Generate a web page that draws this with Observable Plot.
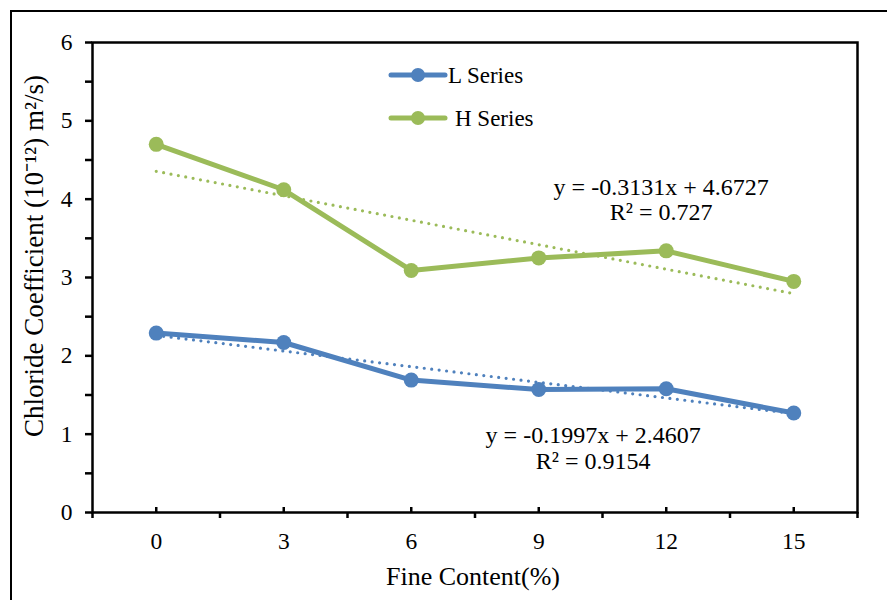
<!DOCTYPE html>
<html><head><meta charset="utf-8">
<script src="https://cdn.jsdelivr.net/npm/d3@7"></script>
<script src="https://cdn.jsdelivr.net/npm/@observablehq/plot@0.6"></script>
<style>
body{margin:0;background:#fff;}
#wrap{position:relative;width:887px;height:600px;overflow:hidden;font-family:"Liberation Serif","Times New Roman",serif;color:#000;background:#fff;}
#outer{position:absolute;left:10px;top:10px;width:1000px;height:1000px;border-left:2.5px solid #000;border-top:2.5px solid #000;}
#chart{position:absolute;left:0;top:0;}
#chart g[aria-label$="tick label"] text{font-size:23.5px;}
#ytitle{position:absolute;left:32px;top:256px;transform:translate(-50%,-50%) rotate(-90deg);white-space:nowrap;font-size:27px;}
#xtitle{position:absolute;left:473px;top:577px;transform:translate(-50%,-50%);white-space:nowrap;font-size:26px;}
#legend{position:absolute;left:0;top:0;}
</style></head><body>
<div id="wrap">
  <div id="outer"></div>
  <div id="chart"></div>
  <div id="ytitle">Chloride Coefficient (10⁻¹²) m²/s)</div>
  <div id="xtitle">Fine Content(%)</div>
  <svg id="legend" width="887" height="600"></svg>
</div>
<script>
const fineContent = [0, 3, 6, 9, 12, 15];
const lSeries = [2.29, 2.17, 1.69, 1.57, 1.58, 1.27];
const hSeries = [4.70, 4.12, 3.09, 3.25, 3.34, 2.95];
const seriesNames = ["L Series", "H Series"];
const seriesColors = ["#4F81BD", "#9BBB59"];
const yTicks = [0, 1, 2, 3, 4, 5, 6];
const yMinorTicks = [0.5, 1.5, 2.5, 3.5, 4.5, 5.5];
const xBoundaries = [-1.5, 1.5, 4.5, 7.5, 10.5, 13.5, 16.5];
const eqTexts = ["y = -0.3131x + 4.6727\nR² = 0.727", "y = -0.1997x + 2.4607\nR² = 0.9154"];
const eqX = [11.88, 10.28];
const eqY = [4.0, 0.83];

const data = [
  ...fineContent.map((c, i) => ({series: seriesNames[0], c, v: lSeries[i]})),
  ...fineContent.map((c, i) => ({series: seriesNames[1], c, v: hSeries[i]}))
];
const equations = eqTexts.map((t, i) => ({text: t, x: eqX[i], y: eqY[i]}));

const chart = Plot.plot({
  width: 887, height: 600,
  marginTop: 42, marginRight: 30, marginBottom: 88, marginLeft: 92,
  style: {fontFamily: '"Liberation Serif","Times New Roman",serif', fontSize: "22px", color: "#000", background: "transparent"},
  x: {domain: [-1.5, 16.5]},
  y: {domain: [0, 6]},
  color: {domain: seriesNames, range: seriesColors},
  marks: [
    Plot.linearRegressionY(data, {x: "c", y: "v", stroke: "series", ci: 0, strokeWidth: 3.2, strokeDasharray: "0 7.5", strokeLinecap: "round"}),
    Plot.line(data, {x: "c", y: "v", z: "series", stroke: "series", strokeWidth: 5, strokeLinejoin: "round", strokeLinecap: "round"}),
    Plot.dot(data, {x: "c", y: "v", fill: "series", r: 7.5}),
    Plot.text(equations, {x: "x", y: "y", text: "text", fontSize: 24, lineHeight: 1.08, fill: "#000"}),
    Plot.axisY({ticks: yTicks, tickSize: 7, tickPadding: 13, tickFormat: d3.format("d"), fontSize: 23.5, label: null, strokeWidth: 2.5}),
    Plot.axisY({ticks: yMinorTicks, tickSize: 7, tickFormat: () => "", label: null, strokeWidth: 2.5}),
    Plot.axisX({ticks: fineContent, tickSize: 0, tickPadding: 20, tickFormat: d3.format("d"), fontSize: 23.5, label: null}),
    Plot.axisX({ticks: fineContent, tickSize: 5, dy: -5, tickFormat: () => "", label: null, strokeWidth: 2.5}),
    Plot.axisX({ticks: xBoundaries, tickSize: 6, tickFormat: () => "", label: null, strokeWidth: 2.5}),
    Plot.frame({stroke: "#000", strokeWidth: 2.5})
  ]
});
document.getElementById("chart").appendChild(chart);

// legend
const lg = d3.select("#legend");
const legendRows = [{y: 75, tx: 448}, {y: 118, tx: 455}];
seriesNames.forEach((name, i) => {
  const g = lg.append("g");
  g.append("line").attr("x1", 391).attr("x2", 445).attr("y1", legendRows[i].y).attr("y2", legendRows[i].y)
    .attr("stroke", seriesColors[i]).attr("stroke-width", 5).attr("stroke-linecap", "round");
  g.append("circle").attr("cx", 418).attr("cy", legendRows[i].y).attr("r", 7).attr("fill", seriesColors[i]);
  g.append("text").attr("x", legendRows[i].tx).attr("y", legendRows[i].y).attr("dy", "0.35em")
    .attr("font-size", 23).attr("font-family", '"Liberation Serif","Times New Roman",serif').text(name);
});
</script>
</body></html>
